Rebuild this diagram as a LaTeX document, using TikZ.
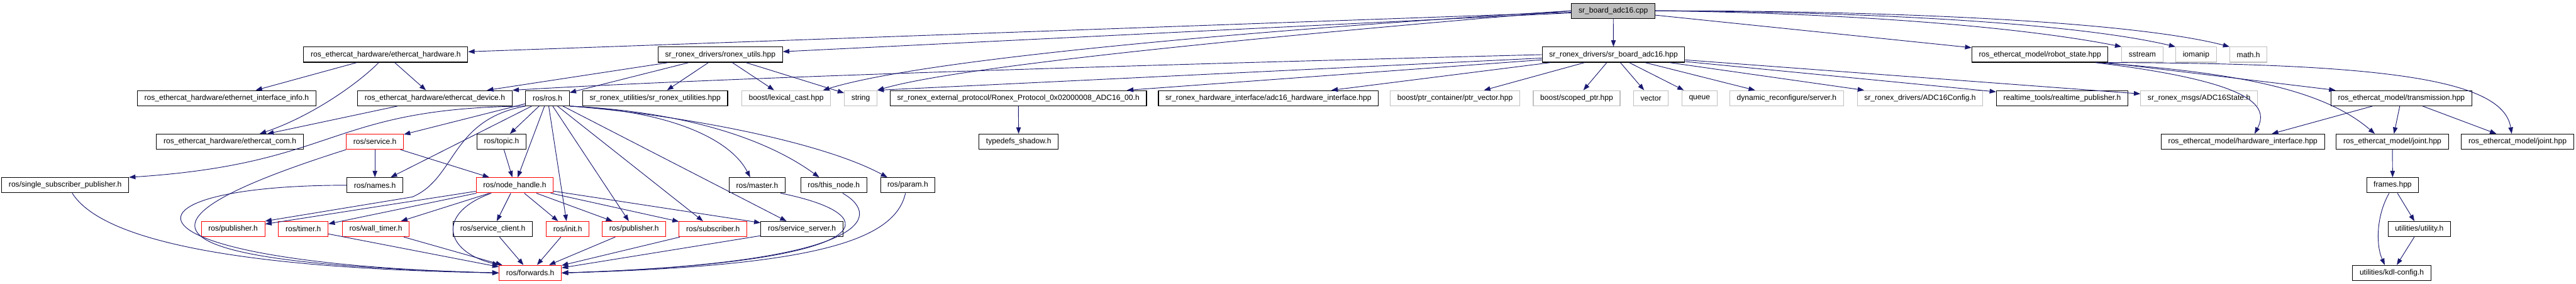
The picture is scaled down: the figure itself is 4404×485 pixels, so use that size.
\documentclass[tikz,border=0pt]{standalone}
\usepackage{fontspec}
\setmainfont{Liberation Sans}
\usetikzlibrary{arrows.meta}
\definecolor{edgeBlue}{HTML}{191970}
\definecolor{sysGray}{HTML}{BFBFBF}
\definecolor{cutRed}{HTML}{FF0000}

\begin{document}
\begin{tikzpicture}[x=1pt,y=-1pt,
  fileBox/.style={draw=black, line width=1.2pt, fill=white, inner xsep=12pt, inner ysep=0pt, minimum height=26pt, font=\fontsize{13}{15}\selectfont},
  sysBox/.style={fileBox, draw=sysGray},
  cutBox/.style={fileBox, draw=cutRed},
  topBox/.style={fileBox, fill=sysGray},
  incEdge/.style={draw=edgeBlue, line width=1pt, -{Triangle[length=11pt,width=8pt]}}]
\useasboundingbox (0,0) rectangle (4404,485);
\node[topBox] (cpp) at (2758,18.5) {sr\_board\_adc16.cpp};
\node[fileBox] (ethhw) at (659.5,93.5) {ros\_ethercat\_hardware/ethercat\_hardware.h};
\node[fileBox] (ronexutils) at (1231.5,93.5) {sr\_ronex\_drivers/ronex\_utils.hpp};
\node[fileBox] (sradchpp) at (2758.5,93.5) {sr\_ronex\_drivers/sr\_board\_adc16.hpp};
\node[fileBox] (robotstate) at (3487.5,93.5) {ros\_ethercat\_model/robot\_state.hpp};
\node[sysBox] (sstream) at (3662.5,93.5) {sstream};
\node[sysBox] (iomanip) at (3754.5,93.5) {iomanip};
\node[sysBox] (mathh) at (3844,93.5) {math.h};
\node[fileBox] (ethinfo) at (387.5,168) {ros\_ethercat\_hardware/ethernet\_interface\_info.h};
\node[fileBox] (ethdev) at (743.5,168) {ros\_ethercat\_hardware/ethercat\_device.h};
\node[fileBox] (rosh) at (936,168) {ros/ros.h};
\node[fileBox] (utilities) at (1120,168) {sr\_ronex\_utilities/sr\_ronex\_utilities.hpp};
\node[sysBox] (lexcast) at (1344,168) {boost/lexical\_cast.hpp};
\node[sysBox] (stringh) at (1471.5,168) {string};
\node[fileBox] (protocol) at (1741,168) {sr\_ronex\_external\_protocol/Ronex\_Protocol\_0x02000008\_ADC16\_00.h};
\node[fileBox] (adc16hw) at (2168.5,168) {sr\_ronex\_hardware\_interface/adc16\_hardware\_interface.hpp};
\node[sysBox] (ptrvec) at (2487.5,168) {boost/ptr\_container/ptr\_vector.hpp};
\node[sysBox] (scoped) at (2695.5,168) {boost/scoped\_ptr.hpp};
\node[sysBox] (vector) at (2822.5,168) {vector};
\node[sysBox] (queue) at (2905.5,168) {queue};
\node[sysBox] (dynrec) at (3054.5,168) {dynamic\_reconfigure/server.h};
\node[sysBox] (adcconfig) at (3282.5,168) {sr\_ronex\_drivers/ADC16Config.h};
\node[fileBox] (rtpub) at (3525.5,168) {realtime\_tools/realtime\_publisher.h};
\node[sysBox] (adcstate) at (3759.5,168) {sr\_ronex\_msgs/ADC16State.h};
\node[fileBox] (transmission) at (4105.5,168) {ros\_ethercat\_model/transmission.hpp};
\node[fileBox] (ethcom) at (393,242.5) {ros\_ethercat\_hardware/ethercat\_com.h};
\node[cutBox] (serviceh) at (641,242.5) {ros/service.h};
\node[fileBox] (topic) at (857.5,242.5) {ros/topic.h};
\node[fileBox] (typedefs) at (1741.5,242.5) {typedefs\_shadow.h};
\node[fileBox] (hwiface) at (3834.5,242.5) {ros\_ethercat\_model/hardware\_interface.hpp};
\node[fileBox] (jointa) at (4090,242.5) {ros\_ethercat\_model/joint.hpp};
\node[fileBox] (jointb) at (4304,242.5) {ros\_ethercat\_model/joint.hpp};
\node[fileBox] (ssp) at (111.5,317) {ros/single\_subscriber\_publisher.h};
\node[fileBox] (names) at (641,317) {ros/names.h};
\node[cutBox] (nodehandle) at (880,317) {ros/node\_handle.h};
\node[fileBox] (master) at (1294.5,317) {ros/master.h};
\node[fileBox] (thisnode) at (1425.5,317) {ros/this\_node.h};
\node[fileBox] (param) at (1552,317) {ros/param.h};
\node[fileBox] (frames) at (4090.5,317) {frames.hpp};
\node[cutBox] (puba) at (398.5,392) {ros/publisher.h};
\node[cutBox] (timer) at (518.5,392) {ros/timer.h};
\node[cutBox] (walltimer) at (642.5,392) {ros/wall\_timer.h};
\node[fileBox] (srvclient) at (842.5,392) {ros/service\_client.h};
\node[cutBox] (init) at (970.5,392) {ros/init.h};
\node[cutBox] (pubb) at (1084,392) {ros/publisher.h};
\node[cutBox] (subscriber) at (1219,392) {ros/subscriber.h};
\node[fileBox] (srvserver) at (1371,392) {ros/service\_server.h};
\node[fileBox] (utility) at (4136,392) {utilities/utility.h};
\node[cutBox] (forwards) at (906.5,467) {ros/forwards.h};
\node[fileBox] (kdlconfig) at (4089,467) {utilities/kdl-config.h};
\draw[incEdge] (cpp) -- (sradchpp);
\draw[incEdge] (cpp) -- (ethhw);
\draw[incEdge] (cpp) -- (ronexutils);
\draw[incEdge] (cpp.west) .. controls (2250,45) and (1600,95) .. ([xshift=63]lexcast.north);
\draw[incEdge] (cpp.west) .. controls (2250,55) and (1650,110) .. (stringh.north east);
\draw[incEdge] (cpp) -- (robotstate);
\draw[incEdge] (cpp.east) .. controls (3150,22) and (3450,45) .. (sstream.north west);
\draw[incEdge] (cpp.east) .. controls (3200,20) and (3550,40) .. (iomanip.north west);
\draw[incEdge] (cpp.east) .. controls (3250,18) and (3650,38) .. (mathh.north west);
\draw[incEdge] (sradchpp.west) .. controls (1800,115) and (1200,135) .. (ethdev.north east);
\draw[incEdge] (sradchpp) -- (stringh.north east);
\draw[incEdge] (sradchpp) -- (protocol);
\draw[incEdge] (sradchpp) -- (adc16hw);
\draw[incEdge] (sradchpp) -- (ptrvec);
\draw[incEdge] (sradchpp) -- (scoped);
\draw[incEdge] (sradchpp) -- (vector);
\draw[incEdge] (sradchpp) -- (queue);
\draw[incEdge] (sradchpp) -- (dynrec);
\draw[incEdge] (sradchpp) -- (adcconfig);
\draw[incEdge] (sradchpp) -- (rtpub);
\draw[incEdge] (sradchpp) -- (adcstate);
\draw[incEdge] (ethhw) -- (ethinfo);
\draw[incEdge] ([xshift=-12]ethhw.south) .. controls (610,145) and (530,200) .. ([xshift=51]ethcom.north);
\draw[incEdge] (ethhw) -- (ethdev);
\draw[incEdge] (ethdev) -- (ethcom);
\draw[incEdge] (ronexutils) -- (ethdev);
\draw[incEdge] (ronexutils) -- (rosh);
\draw[incEdge] (ronexutils) -- (utilities);
\draw[incEdge] (ronexutils) -- (lexcast);
\draw[incEdge] (ronexutils) -- (stringh);
\draw[incEdge] (rosh.south west) .. controls (560,185) and (580,280) .. (ssp.north east);
\draw[incEdge] (rosh) -- (serviceh);
\draw[incEdge] (rosh) -- (names);
\draw[incEdge] (rosh.south west) .. controls (770,205) and (780,305) .. (705,337) -- (puba.north east);
\draw[incEdge] (rosh) -- (topic);
\draw[incEdge] (rosh) -- (nodehandle);
\draw[incEdge] (rosh) -- (init);
\draw[incEdge] (rosh) -- (pubb);
\draw[incEdge] (rosh) -- (subscriber);
\draw[incEdge] (rosh) -- (srvserver);
\draw[incEdge] (rosh.south east) .. controls (1150,190) and (1250,240) .. ([xshift=-12]master.north);
\draw[incEdge] (rosh.south east) .. controls (1150,190) and (1300,230) .. ([xshift=-25]thisnode.north);
\draw[incEdge] (rosh.south east) .. controls (1150,195) and (1400,240) .. ([xshift=-35]param.north);
\draw[incEdge] (serviceh) -- (names);
\draw[incEdge] (serviceh) -- (nodehandle);
\draw[incEdge] (serviceh.south west) .. controls (200,380) and (230,450) .. (forwards.west);
\draw[incEdge] (names.west) .. controls (180,317) and (180,450) .. (forwards.west);
\draw[incEdge] ([xshift=12]ssp.south) .. controls (180,420) and (450,460) .. (forwards.west);
\draw[incEdge] (topic) -- (nodehandle);
\draw[incEdge] (nodehandle) -- (puba);
\draw[incEdge] (nodehandle) -- (timer);
\draw[incEdge] (nodehandle) -- (walltimer);
\draw[incEdge] ([xshift=-40]nodehandle.south) .. controls (745,365) and (760,430) .. (forwards.north west);
\draw[incEdge] (nodehandle) -- (srvclient);
\draw[incEdge] (nodehandle) -- (init);
\draw[incEdge] (nodehandle) -- (pubb);
\draw[incEdge] (nodehandle) -- (subscriber);
\draw[incEdge] (nodehandle) -- (srvserver);
\draw[incEdge] (timer) -- (forwards);
\draw[incEdge] (walltimer) -- (forwards);
\draw[incEdge] (srvclient) -- (forwards);
\draw[incEdge] (init) -- (forwards);
\draw[incEdge] (pubb) -- (forwards);
\draw[incEdge] (subscriber) -- (forwards);
\draw[incEdge] (srvserver) -- (forwards);
\draw[incEdge] ([xshift=40]master.south) .. controls (1530,370) and (1500,450) .. (forwards.east);
\draw[incEdge] ([xshift=15]thisnode.south) .. controls (1510,370) and (1490,450) .. (forwards.east);
\draw[incEdge] ([xshift=-4]param.south) .. controls (1530,410) and (1400,455) .. (forwards.east);
\draw[incEdge] (protocol) -- (typedefs);
\draw[incEdge] ([xshift=95]robotstate.south) .. controls (3850,140) and (3880,180) .. ([xshift=20]hwiface.north);
\draw[incEdge] ([xshift=95]robotstate.south) .. controls (3850,125) and (3980,160) .. ([xshift=-30]jointa.north);
\draw[incEdge] (robotstate.south east) .. controls (4100,108) and (4280,140) .. ([xshift=-10]jointb.north);
\draw[incEdge] (robotstate) -- (transmission);
\draw[incEdge] (transmission) -- (hwiface);
\draw[incEdge] (transmission) -- (jointa);
\draw[incEdge] (transmission) -- (jointb);
\draw[incEdge] (jointa) -- (frames);
\draw[incEdge] (frames) -- (utility);
\draw[incEdge] ([xshift=-6]frames.south) .. controls (4062,370) and (4062,420) .. ([xshift=-12]kdlconfig.north);
\draw[incEdge] (utility) -- (kdlconfig);
\end{tikzpicture}
\end{document}
